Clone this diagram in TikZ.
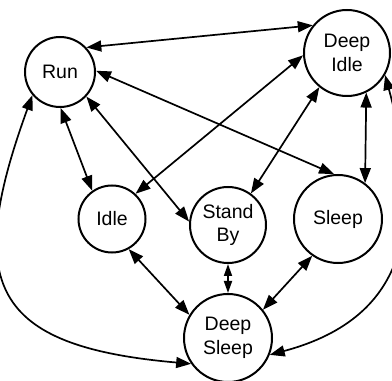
\documentclass[tikz,border=0pt]{standalone}
\usepackage{fontspec}
\setmainfont{Liberation Sans}
\usetikzlibrary{arrows.meta}
\tikzstyle{state}=[circle, draw, line width=2pt, inner sep=0pt, align=center, font=\fontsize{19.5}{23.5}\selectfont]
\tikzstyle{link}=[<->, >={Triangle[length=15pt,width=11pt]}, line width=1.7pt]
\tikzstyle{short link}=[link, >={Triangle[length=12pt,width=8pt]}]

\begin{document}
\begin{tikzpicture}[x=1pt,y=1pt]
  \useasboundingbox (0,0) rectangle (392,381);
  \draw (60,309) node[state,minimum size=70pt] (Run) {Run};
  \draw (347,328) node[state,minimum size=86pt] (DeepIdle) {Deep\\Idle};
  \draw (112,162) node[state,minimum size=67pt] (Idle) {Idle};
  \draw (228,156) node[state,minimum size=76pt] (StandBy) {Stand\\By};
  \draw (338,162) node[state,minimum size=88pt] (Sleep) {Sleep};
  \draw (228,43) node[state,minimum size=88pt] (DeepSleep) {Deep\\Sleep};

  %% straight transitions
  \draw[link] (Run.43) -- (DeepIdle.141);
  \draw[link] (Run.2) -- (Sleep.95);
  \draw[link] (Run.-89) -- (Idle.125);
  \draw[link] (Run.-43) -- (StandBy.175);
  \draw[link] (Idle.47) -- (DeepIdle.183);
  \draw[link] (StandBy.54) -- (DeepIdle.231);
  \draw[link] (DeepIdle.-64) -- (Sleep.53);
  \draw[link] (Idle.-61) -- (DeepSleep.149);
  \draw[short link] (StandBy.-90) -- (DeepSleep.90);
  \draw[link] (Sleep.235) -- (DeepSleep.39);

  %% the long way round
  \draw[link] (Run.220) to[out=250,in=175,looseness=1.65] (DeepSleep.215);
  \draw[link] (DeepIdle.-30) to[out=-75,in=15,looseness=1.25] (DeepSleep.-22);
\end{tikzpicture}
\end{document}
